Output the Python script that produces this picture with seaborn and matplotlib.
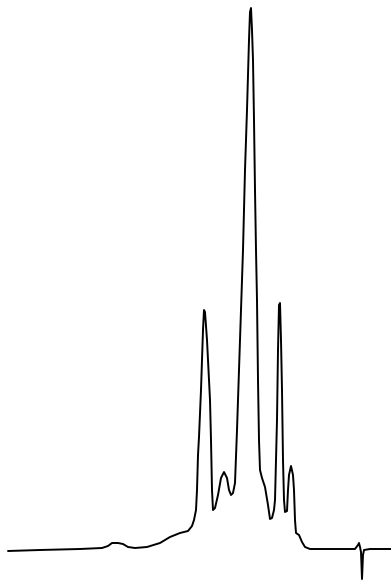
import numpy as np
import pandas as pd
import matplotlib
matplotlib.use("Agg")
import matplotlib.pyplot as plt
import seaborn as sns

# trace (x = time, y = pixel depth from top)
time = [8, 40, 80, 102, 108, 112, 118, 123, 128, 135, 147, 160, 170, 180, 188,
        192, 194, 196, 197, 198, 199, 201, 203, 204, 205, 207, 209, 210, 211, 212,
        213, 215, 218, 221, 224, 227, 229, 231, 233, 235, 237, 239, 241, 243, 245,
        247, 249, 250, 251, 252, 253, 254, 255, 256, 257, 258, 259, 260, 262, 265,
        268, 270, 272, 274, 275, 276, 277, 278, 279, 280, 281, 282, 283, 284, 285,
        287, 288, 289, 291, 293, 294, 295, 296, 299, 302, 305, 310, 355, 358, 359,
        360, 361, 362, 363, 364, 370, 391]
depth = [551, 550, 549, 548, 546, 543, 543, 544, 547, 548, 547, 543, 537, 533, 531,
         526, 520, 510, 490, 455, 437, 390, 330, 310, 312, 340, 380, 400, 440, 490,
         510, 508, 495, 478, 472, 478, 490, 495, 493, 483, 430, 370, 310, 250, 170,
         110, 40, 12, 8, 30, 60, 120, 190, 250, 300, 380, 440, 470, 478, 487,
         505, 519, 518, 510, 500, 460, 420, 350, 305, 303, 340, 390, 460, 500, 512,
         511, 490, 475, 466, 475, 490, 520, 533, 535, 542, 547, 549, 549, 545, 543,
         547, 552, 579, 555, 550, 549, 549]

signal = [580 - d for d in depth]
df = pd.DataFrame({"time": time, "signal": signal})

sns.set_style("white")
fig = plt.figure(figsize=(3.91, 5.8), dpi=100)
ax = fig.add_axes([0, 0, 1, 1])
sns.lineplot(data=df, x="time", y="signal", ax=ax, color="black",
             linewidth=1.4, estimator=None, sort=False)
ax.set_xlim(0, 391)
ax.set_ylim(0, 580)
ax.axis("off")
fig.savefig("out.png", dpi=100, facecolor="white")
